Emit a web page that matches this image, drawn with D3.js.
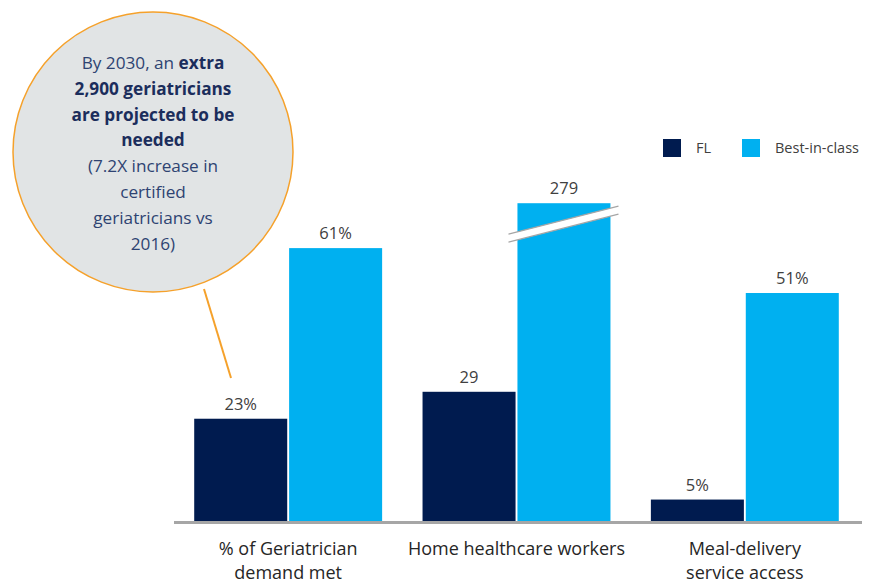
<!DOCTYPE html>
<html>
<head>
<meta charset="utf-8">
<script src="https://cdn.jsdelivr.net/npm/d3@7"></script>
<style>
  html, body { margin: 0; padding: 0; background: #ffffff; }
  svg { display: block; font-family: "Open Sans", "Noto Sans", sans-serif; }
</style>
</head>
<body>
<svg id="chart" width="872" height="584"></svg>
<script>
// Chart data
const categories = ["% of Geriatrician demand met", "Home healthcare workers", "Meal-delivery service access"];
const categoryLines = [["% of Geriatrician", "demand met"], ["Home healthcare workers"], ["Meal-delivery", "service access"]];
const seriesNames = ["FL", "Best-in-class"];
const flValues = [23, 29, 5];
const bestValues = [61, 279, 51];
const flLabels = ["23%", "29", "5%"];
const bestLabels = ["61%", "279", "51%"];
// The 279 bar is drawn with an axis break, cut off at this height
const breakCap = 71;
const calloutLines = [
  [["By 2030, an ", 400], ["extra", 700]],
  [["2,900 geriatricians", 700]],
  [["are projected to be", 700]],
  [["needed", 700]],
  [["(7.2X increase in", 400]],
  [["certified", 400]],
  [["geriatricians vs", 400]],
  [["2016)", 400]]
];

const colors = { "FL": "#001b4f", "Best-in-class": "#00b0f0" };
const svg = d3.select("#chart");

const baseY = 522;
const x0 = d3.scaleBand().domain(categories).range([174, 859]).paddingInner(0.177).paddingOuter(0.0885);
const x1 = d3.scaleBand().domain(seriesNames).range([0, x0.bandwidth()]).paddingInner(0.02);
const y = d3.scaleLinear().domain([0, 100]).range([baseY, baseY - 449]);

const rows = categories.map((c, i) => ({
  category: c,
  bars: [
    { series: "FL", value: flValues[i], label: flLabels[i] },
    { series: "Best-in-class", value: bestValues[i], label: bestLabels[i] }
  ]
}));

const groups = svg.append("g").selectAll("g").data(rows).join("g")
  .attr("transform", d => `translate(${x0(d.category)},0)`);

groups.selectAll("rect").data(d => d.bars).join("rect")
  .attr("x", d => x1(d.series))
  .attr("width", x1.bandwidth())
  .attr("y", d => y(Math.min(d.value, breakCap)))
  .attr("height", d => baseY - y(Math.min(d.value, breakCap)))
  .attr("fill", d => colors[d.series]);

groups.selectAll("text.val").data(d => d.bars).join("text")
  .attr("class", "val")
  .attr("x", d => x1(d.series) + x1.bandwidth() / 2)
  .attr("y", d => y(Math.min(d.value, breakCap)) - 9)
  .attr("text-anchor", "middle")
  .attr("font-size", 16.5)
  .attr("fill", "#404040")
  .text(d => d.label);

// Axis break on any bar taller than the cap
groups.each(function (d) {
  d.bars.filter(b => b.value > breakCap).forEach(b => {
    const bx = x1(b.series), bw = x1.bandwidth(), top = y(breakCap);
    const xl = bx - 9, xr = bx + bw + 8;
    const g = d3.select(this).append("g");
    g.append("path")
      .attr("d", `M${xl},${top + 31} L${xr},${top + 3} L${xr},${top + 11} L${xl},${top + 39} Z`)
      .attr("fill", "#ffffff");
    [[31, 3], [39, 11]].forEach(([a, b2]) => {
      g.append("line")
        .attr("x1", xl).attr("y1", top + a).attr("x2", xr).attr("y2", top + b2)
        .attr("stroke", "#a6a6a6").attr("stroke-width", 1.3);
    });
  });
});

// Category axis
const axis = svg.append("g")
  .attr("transform", `translate(0,${baseY})`)
  .call(d3.axisBottom(x0).tickSize(0).tickSizeOuter(0));
axis.select(".domain").attr("stroke", "#a6a6a6").attr("stroke-width", 3)
  .attr("d", "M174,0.5H862");
axis.selectAll(".tick text").each(function (d, i) {
  const t = d3.select(this).text(null)
    .attr("font-size", 18).attr("fill", "#262626")
    .attr("font-family", "'Open Sans', 'Noto Sans', sans-serif")
    .attr("y", 0).attr("dy", null);
  categoryLines[i].forEach((line, k) => {
    t.append("tspan").attr("x", 0).attr("y", 33 + k * 24).text(line);
  });
});

// Legend
const legend = svg.append("g");
const legendItems = [{ name: "FL", x: 663, tx: 696 }, { name: "Best-in-class", x: 742, tx: 775 }];
legendItems.forEach(it => {
  legend.append("rect").attr("x", it.x).attr("y", 139).attr("width", 18).attr("height", 18)
    .attr("fill", colors[it.name]);
  legend.append("text").attr("x", it.tx).attr("y", 153).attr("font-size", 14.5)
    .attr("fill", "#404040").text(it.name);
});

// Callout bubble
const callout = svg.append("g");
callout.append("line")
  .attr("x1", 204).attr("y1", 289).attr("x2", 231).attr("y2", 378)
  .attr("stroke", "#f5a12b").attr("stroke-width", 2);
callout.append("circle")
  .attr("cx", 153).attr("cy", 152).attr("r", 140)
  .attr("fill", "#e1e4e5").attr("stroke", "#f5a12b").attr("stroke-width", 1.5);
const ct = callout.append("text").attr("text-anchor", "middle").attr("font-size", 17.2);
calloutLines.forEach((parts, k) => {
  parts.forEach((p, j) => {
    const ts = ct.append("tspan").text(p[0]).attr("font-weight", p[1])
      .attr("fill", p[1] === 700 ? "#1b2d5c" : "#2e4372");
    if (j === 0) ts.attr("x", 153).attr("y", 69 + k * 25.8);
  });
});
</script>
</body>
</html>
